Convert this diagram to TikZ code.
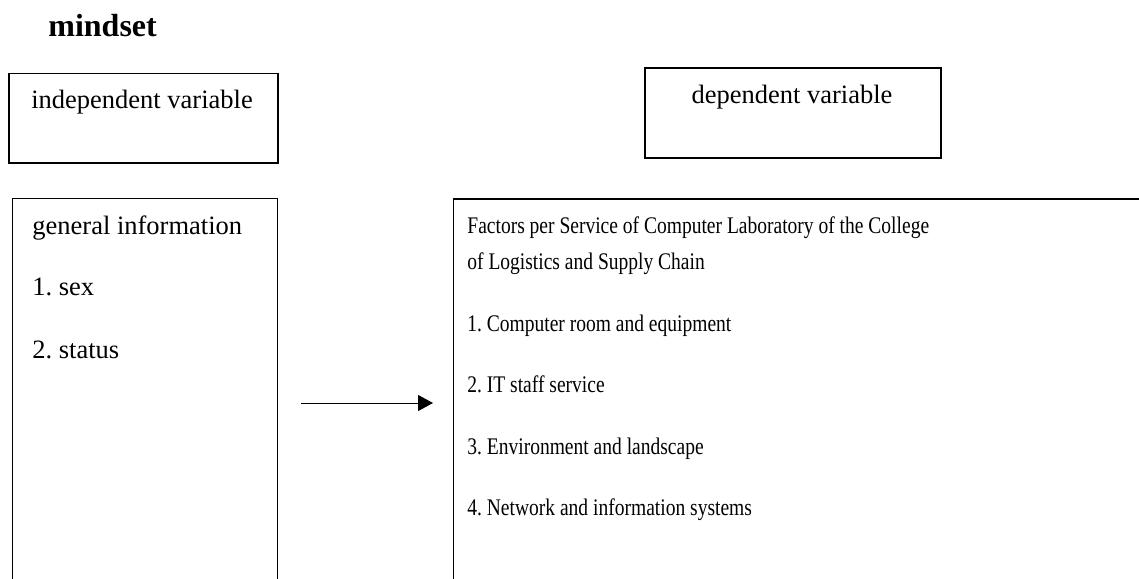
\documentclass[tikz,border=0pt]{standalone}
\usepackage{fontspec}
\setmainfont{Liberation Serif}
\newfontfamily\narrowserif[FakeStretch=0.82]{Liberation Serif}
\usetikzlibrary{arrows.meta}
\frenchspacing
\begin{document}
\begin{tikzpicture}[x=0.5pt,y=-0.5pt,
  frame/.style={draw,line width=0.9pt,rectangle,inner sep=0pt,anchor=north west},
  lbl/.style={inner sep=0pt,font=\fontsize{13.25pt}{16pt}\selectfont},
  rlbl/.style={inner sep=0pt,anchor=base west,font=\narrowserif\fontsize{11.9pt}{18pt}\selectfont},
  conn/.style={line width=0.5pt,-{Triangle[length=7.5pt,width=8pt]}}]
\useasboundingbox (0,0) rectangle (1139,578);
\node[inner sep=0pt,anchor=base west,font=\bfseries\fontsize{16pt}{19pt}\selectfont] (title) at (48,36) {mindset};
% top boxes
\node[frame,minimum width=134.5pt,minimum height=44.7pt] (indep) at (8,72.5) {};
\node[lbl,anchor=base] (indeptxt) at (142,108) {independent variable};
\node[frame,minimum width=148pt,minimum height=45pt] (dep) at (644,67) {};
\node[lbl,anchor=base] (deptxt) at (792,103) {dependent variable};
% lower boxes (cut off by the page edge)
\node[frame,minimum width=132.5pt,minimum height=230pt] (left) at (11.5,197.5) {};
\node[frame,minimum width=400pt,minimum height=230pt] (right) at (452.5,198) {};
% left texts
\node[lbl,anchor=base west] (g0) at (32,234) {general information};
\node[lbl,anchor=base west] (g1) at (32,295) {1. sex};
\node[lbl,anchor=base west] (g2) at (32,358) {2. status};
% right texts
\node[rlbl] (f0) at (467,233) {Factors per Service of Computer Laboratory of the College};
\node[rlbl] (f0b) at (467,269) {of Logistics and Supply Chain};
\node[rlbl] (f1) at (467,331) {1. Computer room and equipment};
\node[rlbl] (f2) at (467,392) {2. IT staff service};
\node[rlbl] (f3) at (467,454) {3. Environment and landscape};
\node[rlbl] (f4) at (467,515) {4. Network and information systems};
% arrow
\coordinate (a1) at (301,403);
\coordinate (a2) at (433,403);
\draw[conn] (a1) -- (a2);
\end{tikzpicture}
\end{document}
